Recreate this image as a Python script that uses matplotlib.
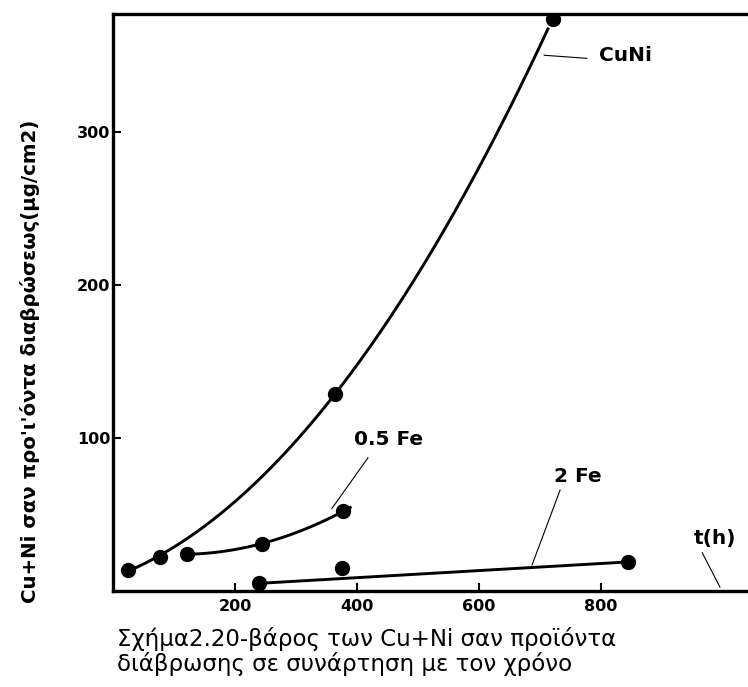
import numpy as np
import matplotlib.pyplot as plt

# measured corrosion product weight (ug/cm2) against exposure time (h)
cuni_t = [25, 77, 364, 721]
cuni_w = [14, 22, 129, 374]

fe05_t = [121, 244, 377]
fe05_w = [24, 31, 52]

fe2_t = [239, 375, 844]
fe2_w = [5, 15, 19]

xticks = [200, 400, 600, 800]
yticks = [100, 200, 300]

plt.rcParams["font.family"] = ["DejaVu Sans"]

fig = plt.figure(figsize=(7.48, 6.87), dpi=100)
ax = fig.add_axes([0.151, 0.1397, 0.849, 0.84])

# smooth trend curves through each series
p_cuni = np.polyfit(cuni_t, cuni_w, 2)
t1 = np.linspace(cuni_t[0], 713, 200)
ax.plot(t1, np.polyval(p_cuni, t1), color="black", lw=2.1)

p_fe05 = np.polyfit(fe05_t, fe05_w, 2)
t2 = np.linspace(fe05_t[0], 389, 100)
ax.plot(t2, np.polyval(p_fe05, t2), color="black", lw=2.1)

# 2 Fe: straight line from first to last measurement
ax.plot([fe2_t[0], fe2_t[-1]], [fe2_w[0], fe2_w[-1]], color="black", lw=2.1)

for t, w in [(cuni_t, cuni_w), (fe05_t, fe05_w), (fe2_t, fe2_w)]:
    ax.plot(t, w, "o", color="black", ms=10, ls="none")

# labels with leader lines
lab = dict(fontsize=14.5, fontweight="bold", color="black")
ax.plot([707, 777], [350, 348], color="black", lw=0.8)
ax.text(796, 350, "CuNi", ha="left", va="center", **lab)
ax.plot([359, 418], [54, 87], color="black", lw=0.8)
ax.text(451, 99, "0.5 Fe", ha="center", va="center", **lab)
ax.plot([687, 733], [17, 66], color="black", lw=0.8)
ax.text(762, 75, "2 Fe", ha="center", va="center", **lab)
ax.plot([966, 995], [25, 2.6], color="black", lw=0.8)
ax.text(987, 34, "t(h)", ha="center", va="center", **lab)

ax.set_xlim(0, 1041)
ax.set_ylim(0, 377)
ax.set_xticks(xticks)
ax.set_yticks(yticks)
ax.tick_params(direction="in", length=6, width=1.5, labelsize=11.5, pad=6)
for lbl in ax.get_xticklabels() + ax.get_yticklabels():
    lbl.set_fontweight("bold")
ax.tick_params(axis="y", pad=2)

ax.spines["right"].set_visible(False)
for s in ["left", "top", "bottom"]:
    ax.spines[s].set_linewidth(2.4)

fig.text(30 / 748, 1 - 361 / 687, "Cu+Ni σαν προ'ι'όντα διαβρώσεως(μg/cm2)",
         rotation=90, ha="center", va="center", fontsize=14.2, fontweight="bold")

fig.text(117 / 748, 1 - 646 / 687, "Σχήμα2.20-βάρος των Cu+Ni σαν προϊόντα",
         ha="left", va="baseline", fontsize=16.5)
fig.text(117 / 748, 1 - 671 / 687, "διάβρωσης σε συνάρτηση με τον χρόνο",
         ha="left", va="baseline", fontsize=16.5)

fig.savefig("out.png", dpi=100)
